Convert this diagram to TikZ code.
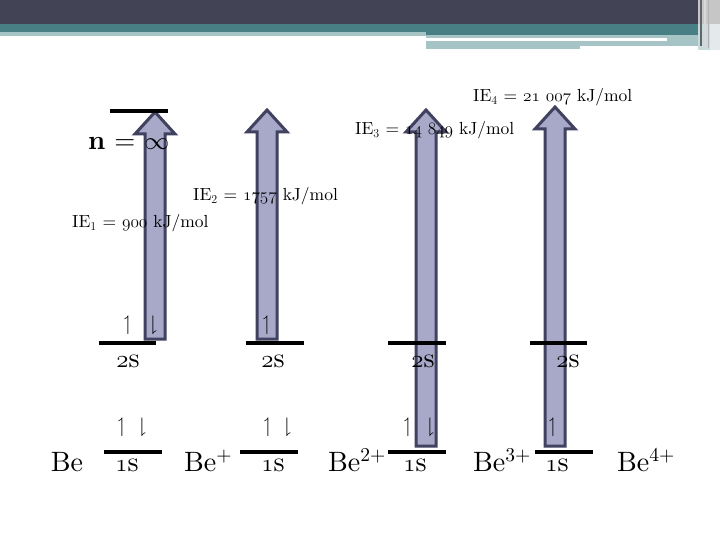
\documentclass[tikz,border=0pt]{standalone}
\usepackage{amsmath, amssymb}
\usepackage{fontspec}
\setmainfont{lmroman10-regular.otf}[BoldFont=lmroman10-bold.otf]
\usepackage{xcolor}
\usepackage{tikz}
\usetikzlibrary{positioning}

\definecolor{slatedark}{HTML}{434356}
\definecolor{slateteal}{HTML}{477F84}
\definecolor{slatelight}{HTML}{A6C3C5}
\definecolor{arrowfill}{HTML}{A8A8C8}
\definecolor{arrowedge}{HTML}{414160}

\newcommand{\osn}[1]{\legacyoldstylenums{#1}}

\begin{document}
\begin{tikzpicture}[x=1pt, y=-1pt,
        level/.style={line width=3.5pt},
        orb/.style={anchor=base, font=\fontsize{28}{30}\selectfont},
        ion/.style={anchor=base, font=\fontsize{28}{30}\selectfont},
        ie/.style={anchor=base west, inner sep=0pt, font=\fontsize{17.5}{20}\selectfont},
        spin/.style={font=\fontsize{21}{22}\selectfont, inner sep=0pt},
        ionarrow/.style={fill=arrowfill, draw=arrowedge, line width=3pt, line join=miter}
    ]
        \useasboundingbox (0,0) rectangle (720,540);
        \fill[white] (0,0) rectangle (720,540);

        % title bar
        \fill[slatedark] (0,0) rectangle (720,24);
        \fill[slateteal] (0,24) rectangle (700,32);
        \fill[slatelight] (0,32) rectangle (426,36);
        \fill[slateteal] (426,32) rectangle (700,35);
        \fill[slatelight] (426,35) rectangle (700,46);
        \fill[white] (426,38) rectangle (667,41);
        \fill[slatelight] (426,46) rectangle (580,49);
        \fill[gray!45] (698,0) rectangle (720,24);
        \fill[slatelight!60] (698,24) rectangle (720,50);
        \fill[gray!55!slatedark] (700,0) rectangle (702,46);
        \fill[gray!30] (704,0) rectangle (706,46);
        \fill[gray!60] (708,0) rectangle (709,48);
        \fill[black!5!slatelight!30] (710,24) rectangle (720,50);

        % ionisation arrows
        \foreach \x/\t/\b in {155/112/339, 267/110/339, 426/110/446, 555/107/446}
            \draw[ionarrow] (\x-10,\b) -- (\x-10,\t+22) -- (\x-20,\t+22) -- (\x,\t)
                -- (\x+20,\t+22) -- (\x+10,\t+22) -- (\x+10,\b) -- cycle;

        % n = infinity
        \draw[level] (110,111) -- (168,111);
        \node[anchor=base west, font=\fontsize{27}{30}\selectfont, inner sep=0pt] (ninf) at (88,150) {\textbf{n} = $\infty$};

        % energy labels
        \node[ie] (ie1) at (72,228) {IE$_1$ = \osn{900} kJ/mol};
        \node[ie] (ie2) at (193,201) {IE$_2$ = \osn{1757} kJ/mol};
        \node[ie] (ie3) at (355,135) {IE$_3$ = \osn{14 849} kJ/mol};
        \node[ie] (ie4) at (473,102) {IE$_4$ = \osn{21 007} kJ/mol};

        % orbital levels
        \draw[level] (99,343) -- (156,343);
        \draw[level] (104,452) -- (162,452);
        \draw[level] (246,343) -- (304,343);
        \draw[level] (240,452) -- (298,452);
        \draw[level] (388,343) -- (446,343);
        \draw[level] (388,452) -- (446,452);
        \draw[level] (530,343) -- (587,343);
        \draw[level] (535,452) -- (593,452);

        \node[orb] (be2s) at (128,367) {\osn{2}s};
        \node[orb] (be1s) at (127,471) {\osn{1}s};
        \node[orb] (bep2s) at (273,367) {\osn{2}s};
        \node[orb] (bep1s) at (273,471) {\osn{1}s};
        \node[orb] (bepp2s) at (423,367) {\osn{2}s};
        \node[orb] (bepp1s) at (415,471) {\osn{1}s};
        \node[orb] (beppp2s) at (568,367) {\osn{2}s};
        \node[orb] (beppp1s) at (557,471) {\osn{1}s};

        % electrons
        \node[spin] (e1) at (128,325) {$\upharpoonleft$};
        \node[spin] (e2) at (153,325) {$\downharpoonright$};
        \node[spin] (e3) at (267,325) {$\upharpoonleft$};
        \node[spin] (e4) at (122,427) {$\upharpoonleft$};
        \node[spin] (e5) at (142,427) {$\downharpoonright$};
        \node[spin] (e6) at (268,427) {$\upharpoonleft$};
        \node[spin] (e7) at (287,427) {$\downharpoonright$};
        \node[spin] (e8) at (408,427) {$\upharpoonleft$};
        \node[spin] (e9) at (430,427) {$\downharpoonright$};
        \node[spin] (e10) at (553,427) {$\upharpoonleft$};

        % ions
        \node[ion] (be) at (67,471) {Be};
        \node[ion] (bep) at (208,471) {Be\textsuperscript{+}};
        \node[ion] (bepp) at (357,471) {Be\textsuperscript{2+}};
        \node[ion] (beppp) at (502,471) {Be\textsuperscript{3+}};
        \node[ion] (bepppp) at (646,471) {Be\textsuperscript{4+}};
    \end{tikzpicture}
\end{document}
